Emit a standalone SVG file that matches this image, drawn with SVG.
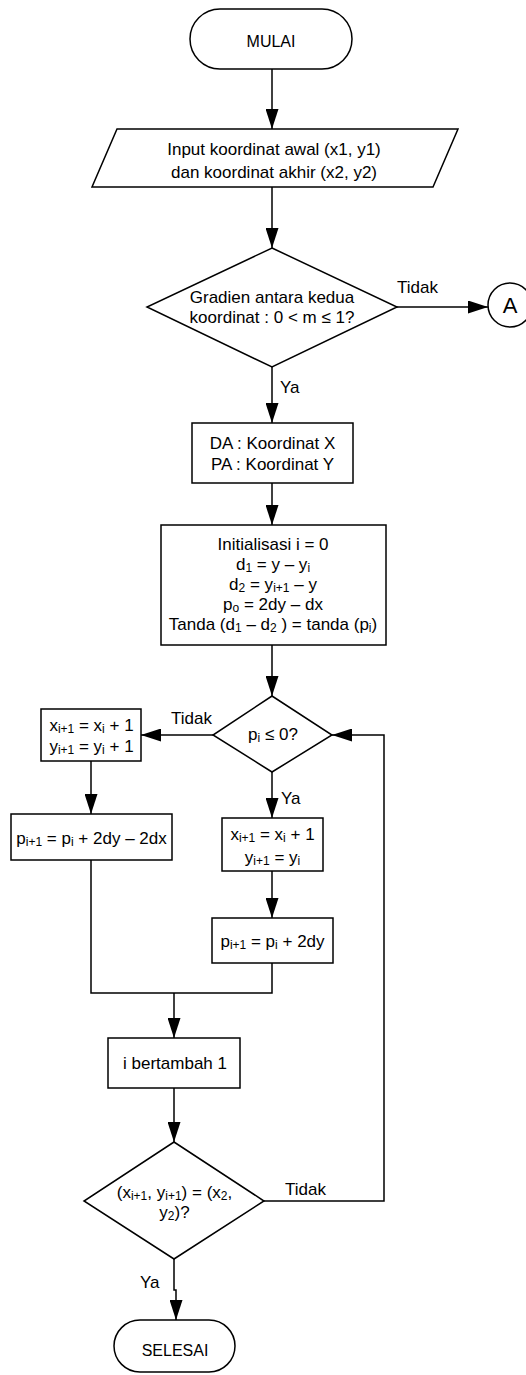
<svg xmlns="http://www.w3.org/2000/svg" width="526" height="1375" viewBox="0 0 526 1375">
<style>
.s{fill:#fff;stroke:#000;stroke-width:1.5}
.c{fill:none;stroke:#000;stroke-width:1.5}
text{font-family:"Liberation Sans",Arial,sans-serif;font-size:17px;fill:#000}
.m{text-anchor:middle}
.t{font-size:16px}
.sb{font-size:12px;baseline-shift:-2px}
</style>
<defs>
<marker id="ah" markerUnits="userSpaceOnUse" viewBox="0 0 20 13" refX="20" refY="6.5" markerWidth="20" markerHeight="13" orient="auto">
<path d="M0,0 L20,6.5 L0,13 z" fill="#000"/>
</marker>
</defs>

<g id="connectors">
<path class="c" d="M272 69 V129" marker-end="url(#ah)"/>
<path class="c" d="M272 187 V248" marker-end="url(#ah)"/>
<path class="c" d="M397 307 H488" marker-end="url(#ah)"/>
<path class="c" d="M272 367 V423" marker-end="url(#ah)"/>
<path class="c" d="M272 483 V525" marker-end="url(#ah)"/>
<path class="c" d="M272 645 V696" marker-end="url(#ah)"/>
<path class="c" d="M213 735 H141" marker-end="url(#ah)"/>
<path class="c" d="M91 761 V814" marker-end="url(#ah)"/>
<path class="c" d="M272 772 V818" marker-end="url(#ah)"/>
<path class="c" d="M272 871 V918" marker-end="url(#ah)"/>
<path class="c" d="M91 860 V993 H272 V963"/>
<path class="c" d="M174 993 V1038" marker-end="url(#ah)"/>
<path class="c" d="M174 1088 V1142" marker-end="url(#ah)"/>
<path class="c" d="M264 1201 H384 V735 H332" marker-end="url(#ah)"/>
<path class="c" d="M174 1259 V1290 H176 V1320" marker-end="url(#ah)"/>
<text x="397" y="293">Tidak</text>
<text x="280" y="393">Ya</text>
<text x="171" y="724">Tidak</text>
<text x="281" y="804">Ya</text>
<text x="285" y="1195">Tidak</text>
<text x="140" y="1288">Ya</text>
</g>

<g id="mulai">
<rect class="s" x="190" y="9" width="162" height="60" rx="30" ry="30"/>
<text class="m t" x="271" y="47">MULAI</text>
</g>

<g id="input">
<polygon class="s" points="117,129 458,129 433,187 92,187"/>
<text class="m" x="274" y="155">Input koordinat awal (x1, y1)</text>
<text class="m" x="274" y="178">dan koordinat akhir (x2, y2)</text>
</g>

<g id="cek-gradien">
<polygon class="s" points="272,248 397,307 272,367 147,307"/>
<text class="m" x="272" y="303">Gradien antara kedua</text>
<text class="m" x="272" y="323">koordinat : 0 &lt; m ≤ 1?</text>
</g>

<g id="konektor-a">
<circle class="s" cx="510" cy="305" r="22"/>
<text class="m" x="510" y="313" style="font-size:22px">A</text>
</g>

<g id="da-pa">
<rect class="s" x="192" y="423" width="161" height="60"/>
<text class="m" x="272.5" y="449">DA : Koordinat X</text>
<text class="m" x="272.5" y="470">PA : Koordinat Y</text>
</g>

<g id="inisialisasi">
<rect class="s" x="161" y="525" width="225" height="120"/>
<text class="m" x="273" y="550">Initialisasi i = 0</text>
<text class="m" x="273" y="570">d<tspan class="sb">1</tspan> = y – y<tspan class="sb">i</tspan></text>
<text class="m" x="273" y="590">d<tspan class="sb">2</tspan> = y<tspan class="sb">i+1</tspan> – y</text>
<text class="m" x="273" y="610">p<tspan class="sb">o</tspan> = 2dy – dx</text>
<text class="m" x="273" y="630">Tanda (d<tspan class="sb">1</tspan> – d<tspan class="sb">2</tspan> ) = tanda (p<tspan class="sb">i</tspan>)</text>
</g>

<g id="cek-p">
<polygon class="s" points="272,696 332,735 272,772 213,735"/>
<text class="m" x="273" y="740">p<tspan class="sb">i</tspan> ≤  0?</text>
</g>

<g id="update-xy-tidak">
<rect class="s" x="41" y="709" width="100" height="52"/>
<text class="m" x="91.5" y="731">x<tspan class="sb">i+1</tspan> = x<tspan class="sb">i</tspan> + 1</text>
<text class="m" x="91.5" y="752">y<tspan class="sb">i+1</tspan> = y<tspan class="sb">i</tspan> + 1</text>
</g>

<g id="update-p-tidak">
<rect class="s" x="11" y="814" width="161" height="46"/>
<text class="m" x="91.5" y="844">p<tspan class="sb">i+1</tspan> = p<tspan class="sb">i</tspan> + 2dy – 2dx</text>
</g>

<g id="update-xy-ya">
<rect class="s" x="222" y="818" width="101" height="53"/>
<text class="m" x="272.5" y="840">x<tspan class="sb">i+1</tspan> = x<tspan class="sb">i</tspan> + 1</text>
<text class="m" x="272.5" y="863">y<tspan class="sb">i+1</tspan> = y<tspan class="sb">i</tspan></text>
</g>

<g id="update-p-ya">
<rect class="s" x="212" y="918" width="121" height="45"/>
<text class="m" x="272.5" y="947">p<tspan class="sb">i+1</tspan> = p<tspan class="sb">i</tspan> + 2dy</text>
</g>

<g id="increment">
<rect class="s" x="108" y="1038" width="132" height="50"/>
<text class="m" x="175" y="1069">i bertambah 1</text>
</g>

<g id="cek-akhir">
<polygon class="s" points="174,1142 264,1201 174,1259 84,1201"/>
<text class="m" x="174.5" y="1198">(x<tspan class="sb">i+1</tspan>, y<tspan class="sb">i+1</tspan>) = (x<tspan class="sb">2</tspan>,</text>
<text class="m" x="174.5" y="1218">y<tspan class="sb">2</tspan>)?</text>
</g>

<g id="selesai">
<rect class="s" x="114" y="1320" width="121" height="52" rx="26" ry="26"/>
<text class="m t" x="175" y="1356">SELESAI</text>
</g>
</svg>
